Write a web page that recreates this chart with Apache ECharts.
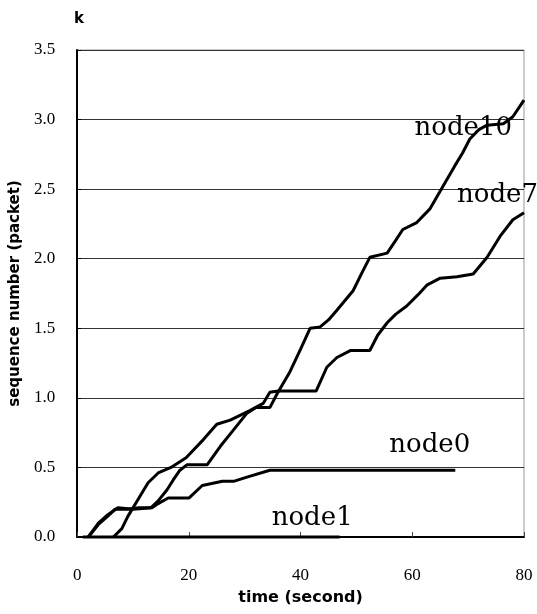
<!DOCTYPE html>
<html lang="en">

<head>
    <meta charset="UTF-8">
    <title>sequence number</title>
    <script src="https://cdn.jsdelivr.net/npm/echarts/dist/echarts.min.js"></script>
    <style>
        body { margin: 0; background: #fff; }
    </style>
</head>

<body>
    <div id="chart" style="width: 537px; height: 614px;"></div>
    <script>
        // time (s), sequence number (k packets)
        const node10 = [
            [2, 0], [3.8, 0.09], [5.5, 0.15], [6.8, 0.2], [9, 0.2], [11, 0.21], [13.2, 0.21],
            [14.5, 0.26], [16.1, 0.34], [17.2, 0.41], [18.4, 0.48], [19.7, 0.52], [23.3, 0.52],
            [25.6, 0.65], [28, 0.77], [30.4, 0.89], [32, 0.93], [34.5, 0.93], [35.8, 1.03],
            [38, 1.18], [40, 1.35], [41.7, 1.5], [43.5, 1.51], [45, 1.56], [46.5, 1.63],
            [49.4, 1.77], [51, 1.9], [52.4, 2.01], [55.5, 2.04], [57, 2.13], [58.3, 2.21],
            [60.8, 2.26], [63.2, 2.36], [65.5, 2.52], [67.5, 2.66], [69, 2.76], [70.3, 2.86],
            [72, 2.93], [73.4, 2.96], [76.3, 2.97], [78, 3.02], [80, 3.14]
        ];
        const node7 = [
            [6.5, 0], [8, 0.06], [9.1, 0.15], [10.9, 0.27], [12.7, 0.39], [14.5, 0.46],
            [16.8, 0.5], [19.5, 0.57], [22.6, 0.7], [25, 0.81], [27.4, 0.84], [31, 0.91],
            [33.3, 0.96], [34.5, 1.04], [36, 1.05], [42.8, 1.05], [44.7, 1.22], [46.5, 1.29],
            [48.9, 1.34], [52.4, 1.34], [53.8, 1.45], [55.5, 1.54], [57, 1.6], [59, 1.66],
            [61, 1.74], [62.6, 1.81], [65, 1.86], [68, 1.87], [70.9, 1.89], [73.4, 2.01],
            [75.7, 2.16], [78, 2.28], [80, 2.33]
        ];
        const node0 = [
            [2, 0], [3.8, 0.1], [5.5, 0.16], [7.3, 0.21], [10, 0.2], [13.4, 0.21], [14.5, 0.24],
            [16.3, 0.28], [20, 0.28], [22.4, 0.37], [26, 0.4], [28, 0.4], [30.4, 0.43],
            [34.5, 0.48], [67.7, 0.48]
        ];
        const node1 = [
            [1, 0], [47, 0]
        ];
        const yTicks = ['0.0', '0.5', '1.0', '1.5', '2.0', '2.5', '3.0', '3.5'];

        const chart = echarts.init(document.getElementById('chart'));

        function line(name, data, off) {
            return {
                name: name,
                type: 'line',
                data: data,
                showSymbol: false,
                clip: false,
                lineStyle: { color: '#000', width: 3 },
                endLabel: {
                    show: true,
                    formatter: '{a}',
                    align: 'right',
                    verticalAlign: 'middle',
                    distance: 0,
                    offset: off,
                    fontFamily: 'DejaVu Serif',
                    fontSize: 26,
                    color: '#000'
                }
            };
        }

        chart.setOption({
            animation: false,
            grid: {
                left: 77, right: 13, top: 50, bottom: 77,
                show: true, borderColor: '#999', borderWidth: 1
            },
            xAxis: {
                type: 'value',
                min: 0, max: 80, interval: 20,
                name: 'time (second)',
                nameLocation: 'middle',
                nameGap: 53,
                nameTextStyle: { fontFamily: 'DejaVu Sans', fontWeight: 'bold', fontSize: 16, color: '#000' },
                axisLine: { lineStyle: { color: '#000', width: 2 } },
                axisTick: { inside: true, length: 5, lineStyle: { color: '#444' } },
                axisLabel: { margin: 30, fontFamily: 'Liberation Serif', fontSize: 17, color: '#000' },
                splitLine: { show: false }
            },
            yAxis: {
                type: 'value',
                min: 0, max: 3.5, interval: 0.5,
                name: 'sequence number (packet)',
                nameLocation: 'middle',
                nameRotate: 90,
                nameGap: 50,
                nameTextStyle: { fontFamily: 'DejaVu Sans', fontWeight: 'bold', fontSize: 15, color: '#000' },
                axisLine: { show: true, lineStyle: { color: '#000', width: 2 } },
                axisTick: { show: true, inside: true, length: 4, lineStyle: { color: '#000' } },
                axisLabel: {
                    margin: 22, fontFamily: 'Liberation Serif', fontSize: 17, color: '#000',
                    formatter: v => yTicks[Math.round(v / 0.5)]
                },
                splitLine: { lineStyle: { color: '#333', width: 1 } }
            },
            graphic: [{
                type: 'text', left: 74, top: 12,
                style: { text: 'k', font: 'bold 15px DejaVu Sans', fill: '#000' }
            }],
            series: [
                line('node10', node10, [-12, 28]),
                line('node7', node7, [14, -18]),
                line('node0', node0, [15, -25]),
                line('node1', node1, [13, -19])
            ]
        });
    </script>
</body>

</html>
